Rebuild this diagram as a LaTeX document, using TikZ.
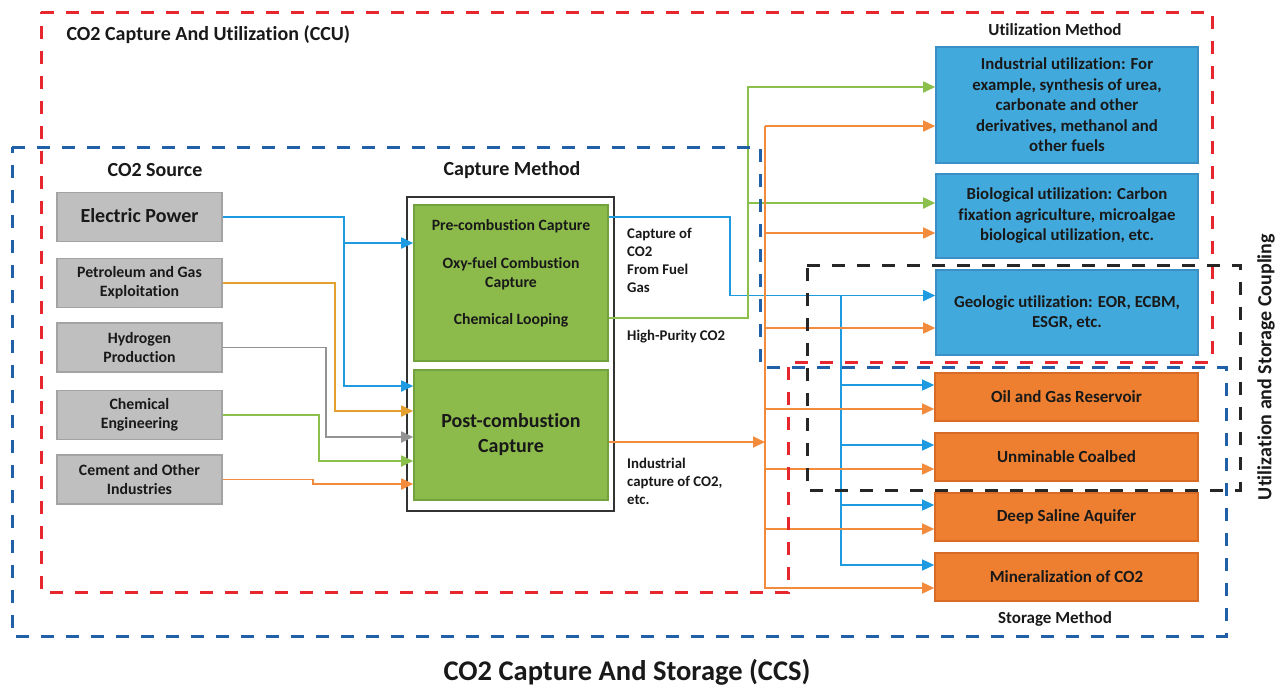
\documentclass[tikz,border=0pt]{standalone}
\usepackage{fontspec}
\setmainfont[Ligatures=NoCommon]{Carlito}
\usetikzlibrary{arrows.meta}
\definecolor{ccured}{HTML}{E8262E}
\definecolor{ccsblue}{HTML}{1F60A8}
\definecolor{srcgray}{HTML}{BFBFBF}
\definecolor{srcedge}{HTML}{A3A3A3}
\definecolor{capgreen}{HTML}{8CBB4B}
\definecolor{capedge}{HTML}{72A23E}
\definecolor{useblue}{HTML}{42A9DC}
\definecolor{useedge}{HTML}{3A90C4}
\definecolor{storeorange}{HTML}{EE7F31}
\definecolor{storeedge}{HTML}{D86C27}
\definecolor{lineblue}{HTML}{1E9AE0}
\definecolor{lineorange}{HTML}{F28B3C}
\definecolor{linegold}{HTML}{E3A02F}
\definecolor{linegray}{HTML}{939393}
\definecolor{linegreen}{HTML}{8CC04C}
\begin{document}
\begin{tikzpicture}[x=1pt,y=-1pt,
  every node/.style={font=\bfseries, text=black!90},
  title/.style={font=\bfseries\fontsize{20}{23}\selectfont},
  subtitle/.style={font=\bfseries\fontsize{17}{20}\selectfont},
  srcbox/.style={draw=srcedge, fill=srcgray, line width=1.6pt, minimum width=165pt, minimum height=49pt, inner sep=0pt, align=center, font=\bfseries\fontsize{15.8}{19}\selectfont},
  capbox/.style={draw=capedge, fill=capgreen, line width=1.6pt, minimum width=194pt, inner sep=0pt, align=center},
  captext/.style={align=center, font=\bfseries\fontsize{15.7}{19}\selectfont},
  note/.style={anchor=west, align=left, inner sep=0pt, font=\bfseries\fontsize{14.8}{18}\selectfont},
  usebox/.style={draw=useedge, fill=useblue, line width=1.6pt, minimum width=262pt, inner sep=0pt, align=center, font=\bfseries\fontsize{16.8}{20.5}\selectfont},
  storebox/.style={draw=storeedge, fill=storeorange, line width=1.6pt, minimum width=263pt, minimum height=48pt, inner sep=0pt, font=\bfseries\fontsize{17}{20}\selectfont},
  flow/.style={line width=1.8pt, -{Triangle[length=12pt,width=11pt]}},
  region/.style={line width=3pt, dash pattern=on 13pt off 12pt}]
\useasboundingbox (0,0) rectangle (1281,689);

\node[title, anchor=west] (ccutitle) at (63,35) {CO2 Capture And Utilization (CCU)};
\node[title] (srctitle) at (155,170) {CO2 Source};
\node[title] (captitle) at (512,170) {Capture Method};
\node[subtitle] (usetitle) at (1055,30) {Utilization Method};
\node[subtitle] (storetitle) at (1055,619) {Storage Method};
\node[font=\bfseries\fontsize{28.5}{32}\selectfont] (ccstitle) at (627,672) {CO2 Capture And Storage (CCS)};
\node[title, rotate=90] (coupletitle) at (1266,367) {Utilization and Storage Coupling};

\node[srcbox, font=\bfseries\fontsize{20}{22}\selectfont] (power) at (139.5,217) {\raisebox{4pt}{Electric Power}};
\node[srcbox] (petro) at (139.5,283) {Petroleum and Gas\\Exploitation};
\node[srcbox] (hydro) at (139.5,347.5) {Hydrogen\\Production};
\node[srcbox] (chem) at (139.5,415) {Chemical\\Engineering};
\node[srcbox] (cement) at (139.5,479.5) {Cement and Other\\Industries};

\node[draw=black!80, line width=1.6pt, minimum width=207pt, minimum height=314pt] (capframe) at (510.5,354) {};
\node[capbox, minimum height=156pt] (pre) at (511,283) {};
\node[captext] (pretext) at (511,273) {Pre-combustion Capture\\[19pt]Oxy-fuel Combustion\\Capture\\[18pt]Chemical Looping};
\node[capbox, minimum height=130pt, font=\bfseries\fontsize{20}{25}\selectfont] (post) at (511,435) {Post-combustion\\Capture};

\node[note] (fuelgas) at (627,260) {Capture of\\CO2\\From Fuel\\Gas};
\node[note] (purity) at (627,337) {High-Purity CO2};
\node[note] (industrial) at (627,481) {Industrial\\capture of CO2,\\etc.};

\node[usebox, minimum height=116pt] (indus) at (1067,105) {Industrial utilization: For\\example, synthesis of urea,\\carbonate and other\\derivatives, methanol and\\other fuels};
\node[usebox, minimum height=84pt] (bio) at (1067,216) {Biological utilization: Carbon\\fixation agriculture, microalgae\\biological utilization, etc.};
\node[usebox, minimum height=85pt] (geo) at (1067,312.5) {Geologic utilization: EOR, ECBM,\\ESGR, etc.};

\node[storebox] (oil) at (1066.5,397) {Oil and Gas Reservoir};
\node[storebox] (unmin) at (1066.5,457) {Unminable Coalbed};
\node[storebox] (saline) at (1066.5,517) {Deep Saline Aquifer};
\node[storebox] (mineral) at (1066.5,577) {Mineralization of CO2};

\draw[flow, lineblue] (power.east) -- ++(121,0) coordinate (powerbus) |- ([yshift=40pt]pre.west);
\draw[flow, lineblue] (powerbus) |- ([yshift=49pt]post.west);
\draw[flow, linegold] (petro.east) -- ++(112,0) |- ([yshift=24pt]post.west);
\draw[flow, linegray] (hydro.east) -- ++(103,0) |- ([yshift=-2pt]post.west);
\draw[flow, linegreen] (chem.east) -- ++(96,0) |- ([yshift=-26pt]post.west);
\draw[flow, lineorange] (cement.east) -- ++(90,0) |- ([yshift=-49pt]post.west);

\coordinate (bluetap) at (841,295);
\coordinate (greentap) at (747,203);
\coordinate (orangetop) at (765,126);
\coordinate (orangebus) at (765,442);

\draw[flow, lineblue] ([yshift=66pt]pre.east) -- ++(121,0) |- ([yshift=17pt]geo.west);
\foreach \tgt in {oil,unmin,saline,mineral}
  \draw[flow, lineblue, line width=1.3pt] (bluetap) |- ([yshift=12pt]\tgt.west);
\draw[flow, linegreen] ([yshift=-35pt]pre.east) -- ++(139,0) |- ([yshift=18pt]indus.west);
\draw[flow, linegreen] (greentap) -- ([yshift=13pt]bio.west);
\draw[flow, lineorange] ([yshift=-7pt]post.east) -- (orangebus);
\foreach \tgt/\dy in {indus/-21,bio/-17,geo/-15.5,oil/-12,unmin/-12,saline/-12,mineral/-11}
  \draw[flow, lineorange, line width=1.5pt] (orangetop) |- ([yshift=\dy pt]\tgt.west);

\draw[region, ccured] (41,12) -- (1212,12) -- (1212,362) -- (788,362) -- (788,592) -- (41,592) -- cycle;
\draw[region, ccsblue] (12,147) -- (760,147) -- (760,367) -- (1226,367) -- (1226,636) -- (12,636) -- cycle;
\draw[region, black!85] (807,265) -- (1240,265) -- (1240,490) -- (807,490) -- cycle;
\end{tikzpicture}
\end{document}
